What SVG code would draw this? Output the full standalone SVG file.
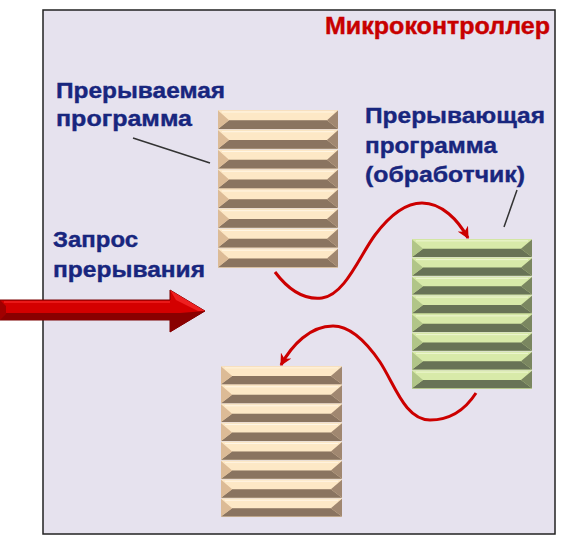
<svg xmlns="http://www.w3.org/2000/svg" xmlns:xlink="http://www.w3.org/1999/xlink" width="570" height="538" viewBox="0 0 570 538">
<style>
.lbl{font-family:"Liberation Sans",Arial,sans-serif;font-weight:bold;font-size:22.5px;fill:#18267e;stroke:#18267e;stroke-width:0.4}
.ttl{font-family:"Liberation Sans",Arial,sans-serif;font-weight:bold;font-size:23.5px;fill:#c80000;stroke:#c80000;stroke-width:0.4}
.lead{stroke:#333;stroke-width:1.5;fill:none}
.flow{stroke:#cc0000;stroke-width:3;fill:none;marker-end:url(#ah)}
</style>
<defs>
<marker id="ah" viewBox="0 0 10 10" refX="9" refY="5" markerWidth="4" markerHeight="4" orient="auto" markerUnits="strokeWidth">
<path d="M0,0 L10,5 L0,10 L3,5 z" fill="#cc0000"/>
</marker>
<symbol id="barB" viewBox="0 0 120 20" preserveAspectRatio="none">
<rect x="0" y="0" width="120" height="20" fill="#f0d9b8"/>
<polygon points="0,0.5 120,0.5 109,10.5 11,10.5" fill="#fde8c6"/>
<polygon points="0,19.3 11,10.5 109,10.5 120,19.3" fill="#8a7460"/>
<polygon points="0,0.5 11,10.5 0,19.3" fill="#dcbb96"/>
<polygon points="120,0.5 120,19.3 109,10.5" fill="#a08770"/>
<line x1="4" y1="2" x2="116" y2="2" stroke="#fff6e6" stroke-width="1"/>
</symbol>
<symbol id="barG" viewBox="0 0 120 20" preserveAspectRatio="none">
<rect x="0" y="0" width="120" height="20" fill="#cfe29e"/>
<polygon points="0,0.5 120,0.5 109,10.5 11,10.5" fill="#d8eaa9"/>
<polygon points="0,19.3 11,10.5 109,10.5 120,19.3" fill="#687356"/>
<polygon points="0,0.5 11,10.5 0,19.3" fill="#b1c588"/>
<polygon points="120,0.5 120,19.3 109,10.5" fill="#7a8660"/>
<line x1="4" y1="2" x2="116" y2="2" stroke="#eef7d4" stroke-width="1"/>
</symbol>
</defs>
<rect x="0" y="0" width="570" height="538" fill="#ffffff"/>
<g id="mcu">
<rect x="43" y="10" width="512" height="524" fill="#e6e2ee" stroke="#222" stroke-width="1.5"/>
<text class="ttl" x="325" y="34" textLength="225" lengthAdjust="spacingAndGlyphs">Микроконтроллер</text>
</g>
<g id="stack-interrupted">
<use xlink:href="#barB" x="218" y="110" width="120" height="19.75"/>
<use xlink:href="#barB" x="218" y="129.75" width="120" height="19.75"/>
<use xlink:href="#barB" x="218" y="149.5" width="120" height="19.75"/>
<use xlink:href="#barB" x="218" y="169.25" width="120" height="19.75"/>
<use xlink:href="#barB" x="218" y="189" width="120" height="19.75"/>
<use xlink:href="#barB" x="218" y="208.75" width="120" height="19.75"/>
<use xlink:href="#barB" x="218" y="228.5" width="120" height="19.75"/>
<use xlink:href="#barB" x="218" y="248.25" width="120" height="19.75"/>
</g>
<g id="stack-handler">
<use xlink:href="#barG" x="412" y="239" width="120" height="18.75"/>
<use xlink:href="#barG" x="412" y="257.75" width="120" height="18.75"/>
<use xlink:href="#barG" x="412" y="276.5" width="120" height="18.75"/>
<use xlink:href="#barG" x="412" y="295.25" width="120" height="18.75"/>
<use xlink:href="#barG" x="412" y="314" width="120" height="18.75"/>
<use xlink:href="#barG" x="412" y="332.75" width="120" height="18.75"/>
<use xlink:href="#barG" x="412" y="351.5" width="120" height="18.75"/>
<use xlink:href="#barG" x="412" y="370.25" width="120" height="18.75"/>
</g>
<g id="stack-resumed">
<use xlink:href="#barB" x="221" y="366" width="121" height="18.9"/>
<use xlink:href="#barB" x="221" y="384.9" width="121" height="18.9"/>
<use xlink:href="#barB" x="221" y="403.8" width="121" height="18.9"/>
<use xlink:href="#barB" x="221" y="422.7" width="121" height="18.9"/>
<use xlink:href="#barB" x="221" y="441.6" width="121" height="18.9"/>
<use xlink:href="#barB" x="221" y="460.5" width="121" height="18.9"/>
<use xlink:href="#barB" x="221" y="479.4" width="121" height="18.9"/>
<use xlink:href="#barB" x="221" y="498.3" width="121" height="18.9"/>
</g>
<g id="label-interrupted">
<text class="lbl" x="56" y="98" textLength="169" lengthAdjust="spacingAndGlyphs">Прерываемая</text>
<text class="lbl" x="56" y="126" textLength="136" lengthAdjust="spacingAndGlyphs">программа</text>
</g>
<g id="label-handler">
<text class="lbl" x="365" y="123" textLength="180" lengthAdjust="spacingAndGlyphs">Прерывающая</text>
<text class="lbl" x="365" y="153" textLength="132" lengthAdjust="spacingAndGlyphs">программа</text>
<text class="lbl" x="365" y="182" textLength="160" lengthAdjust="spacingAndGlyphs">(обработчик)</text>
</g>
<g id="label-request">
<text class="lbl" x="53" y="247" textLength="85" lengthAdjust="spacingAndGlyphs">Запрос</text>
<text class="lbl" x="53" y="277" textLength="152" lengthAdjust="spacingAndGlyphs">прерывания</text>
</g>
<g id="request-arrow">
<polygon points="0,300 170,300 170,290 205,311 170,332 170,320 0,320" fill="#d40000" stroke="#7a0000" stroke-width="1"/>
<polygon points="0,313 180,313 205,311 170,332 170,320 0,320" fill="#8a0000"/>
<polygon points="0,300 6,306 6,314 0,320" fill="#a00000"/>
<polygon points="170,290 176,300 198,311 205,311" fill="#ee2020"/>
<line x1="4" y1="302" x2="170" y2="302" stroke="#ff3030" stroke-width="1"/>
</g>
<g id="connectors">
<line class="lead" x1="133" y1="138" x2="210" y2="163"/>
<line class="lead" x1="517" y1="190" x2="504" y2="227"/>
<path class="flow" d="M275,272 C290,292 305,300 322,298 C345,295 360,255 375,235 C390,215 405,203 422,203 C442,203 458,220 468,238"/>
<path class="flow" d="M476,393 C465,410 450,420 430,420 C405,420 395,385 380,362 C365,340 350,326 333,326 C310,326 292,345 281,365"/>
</g>
</svg>
